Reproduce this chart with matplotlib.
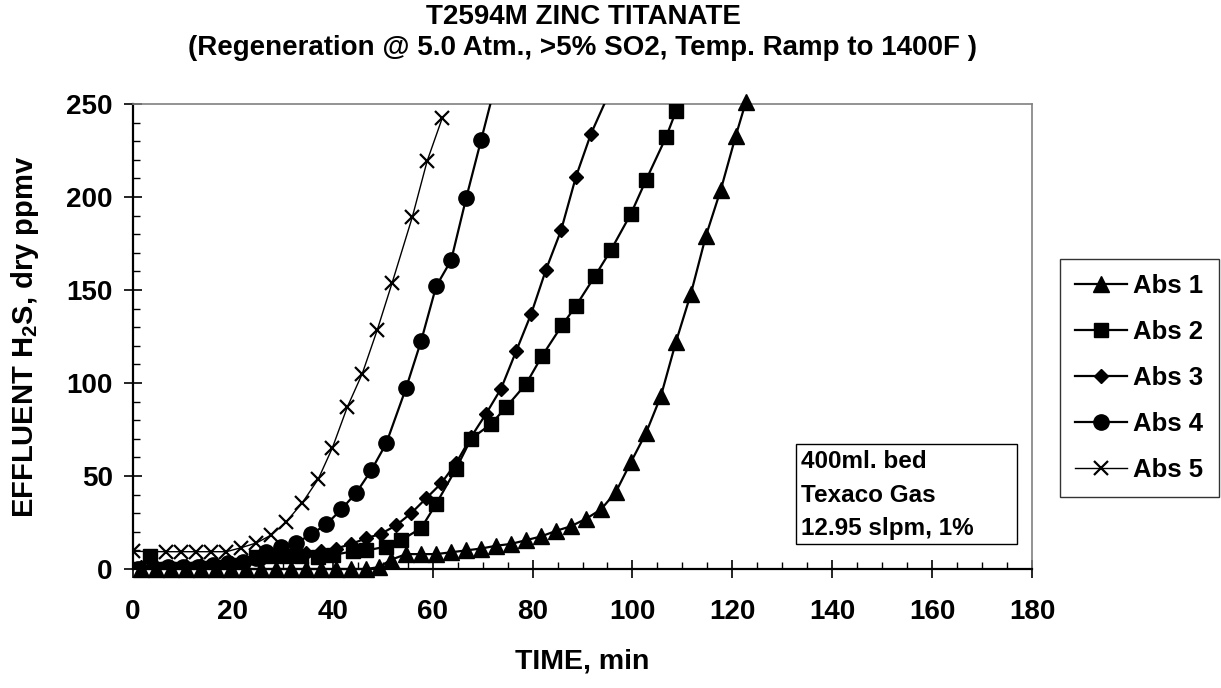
import matplotlib
matplotlib.use("Agg")
from matplotlib import pyplot as plt
from matplotlib.patches import Rectangle
from matplotlib.ticker import MultipleLocator

plt.rcParams['font.family'] = ['Liberation Sans', 'DejaVu Sans']
plt.rcParams['font.weight'] = 'bold'
plt.rcParams['mathtext.fontset'] = 'custom'
plt.rcParams['mathtext.rm'] = 'Liberation Sans:bold'
plt.rcParams['mathtext.bf'] = 'Liberation Sans:bold'

# data (time in min, H2S in ppmv)
abs1_t = [1.7, 4.7, 7.7, 10.7, 13.7, 16.7, 19.7, 22.7, 25.7, 28.7, 31.7, 34.7, 37.7, 40.7, 43.7, 46.7,
          49.2, 51.7, 54.7, 57.7, 60.7, 63.7, 66.7, 69.7, 72.7, 75.7, 78.7, 81.7, 84.7, 87.7, 90.7,
          93.7, 96.7, 99.7, 102.7, 105.7, 108.7, 111.7, 114.7, 117.7, 120.7, 122.7]
abs1_y = [0, 0, 0, 0, 0, 0, 0, 0, 0, 0, 0, 0, 0, 0, 0, 0,
          1, 5, 8, 8, 8, 9, 10, 11, 12.5, 13.5, 15.5, 17.5, 20.5, 23, 27,
          32, 41.5, 57.5, 73, 93, 122, 148, 179, 204, 233, 251]

abs2_t = [0.5, 3.5, 5, 7, 9, 11, 13, 15, 17, 19, 21, 24.7, 27.7, 30.7, 33.7, 37, 40, 44, 46.7,
          50.7, 53.7, 57.7, 60.7, 64.7, 67.7, 71.7, 74.7, 78.7, 81.9, 85.9, 88.7, 92.5, 95.7,
          99.7, 102.7, 106.7, 108.7]
abs2_y = [0, 7, 0, 0, 0, 0, 0, 0.5, 1, 1, 2, 6.5, 7, 7, 7, 6.5, 7.5, 9.5, 10,
          12, 15.5, 22, 35, 54, 70, 78, 87, 99.5, 114.5, 131, 141.5, 157.5, 171.5,
          191, 209, 232, 246]

abs3_t = [1.7, 4.7, 7.7, 10.7, 13.7, 16.7, 19.7, 22.7, 25.7, 28.7, 31.7, 34.7, 37.7, 40.7, 43.7,
          46.7, 49.7, 52.7, 55.7, 58.7, 61.7, 64.7, 67.7, 70.7, 73.7, 76.7, 79.7, 82.7, 85.7,
          88.7, 91.7, 95.7]
abs3_y = [1, 1, 1, 1.5, 2, 2, 3, 4, 5, 6.5, 7.5, 8.5, 9.5, 11, 13.5,
          16.5, 19, 23.5, 30, 38, 46, 57, 71, 83.5, 97, 117, 137, 161, 182,
          211, 234, 258]

abs4_t = [1, 4, 7, 10, 13, 16, 19, 22, 24.7, 26.7, 29.7, 32.7, 35.7, 38.7, 41.7, 44.7, 47.7,
          50.7, 54.7, 57.7, 60.7, 63.7, 66.7, 69.7, 72.7]
abs4_y = [0, 0.5, 1, 1, 1, 2, 3, 4, 6, 9, 12, 14, 18.7, 24, 32, 41, 53,
          67.5, 97.5, 122.7, 152, 166, 199.3, 230.6, 262]

abs5_t = [0, 6.7, 9.7, 12.7, 15.7, 18.7, 21.7, 24.7, 27.7, 30.7, 33.9, 37.1, 39.9, 42.9, 45.9,
          48.9, 51.9, 55.9, 58.9, 61.9]
abs5_y = [9.5, 9.3, 9.3, 9.3, 9.3, 9.3, 11.5, 14, 18.3, 25.4, 35.6, 48.4, 65, 87, 105,
          128.5, 154, 189, 219.4, 242.3]

title_lines = ["T2594M ZINC TITANATE",
               "(Regeneration @ 5.0 Atm., >5% SO2, Temp. Ramp to 1400F )"]
box_lines = ["400ml. bed", "Texaco Gas", "12.95 slpm, 1%"]

FS = 20

fig = plt.figure(figsize=(12.21, 6.88), dpi=100)
ax = fig.add_axes([133/1221, 1-569/688, 899/1221, 465/688])

ax.plot(abs1_t, abs1_y, color='black', lw=1.6, marker='^', ms=12, label='Abs 1', clip_on=False, zorder=3)
ax.plot(abs2_t, abs2_y, color='black', lw=1.6, marker='s', ms=10.5, label='Abs 2', zorder=3)
ax.plot(abs3_t, abs3_y, color='black', lw=1.6, marker='D', ms=7.5, label='Abs 3', zorder=3)
ax.plot(abs4_t, abs4_y, color='black', lw=1.6, marker='o', ms=11, label='Abs 4', zorder=3)
ax.plot(abs5_t, abs5_y, color='black', lw=1.0, marker='x', ms=9.5, mew=1.6, label='Abs 5', zorder=3)

ax.set_xlim(0, 180)
ax.set_ylim(0, 250)
ax.xaxis.set_major_locator(MultipleLocator(20))
ax.xaxis.set_minor_locator(MultipleLocator(5))
ax.yaxis.set_major_locator(MultipleLocator(50))
ax.yaxis.set_minor_locator(MultipleLocator(10))
ax.tick_params(which='major', direction='inout', length=13, width=1.2, labelsize=FS)
ax.tick_params(which='minor', direction='in', length=5, width=1)
ax.tick_params(axis='x', which='major', pad=15)
ax.tick_params(axis='y', which='major', pad=8)
for lab in ax.get_xticklabels() + ax.get_yticklabels():
    lab.set_fontweight('bold')

for s in ['left', 'bottom']:
    ax.spines[s].set_linewidth(1.6)
    ax.spines[s].set_color('black')
for s in ['top', 'right']:
    ax.spines[s].set_linewidth(1.2)
    ax.spines[s].set_color('#808080')

ax.set_xlabel("TIME, min", fontsize=20.5, fontweight='bold')
ax.xaxis.set_label_coords(0.5, -0.172)
ax.set_ylabel(r"EFFLUENT H$_\mathbf{2}$S, dry ppmv", fontsize=21, fontweight='bold')
ax.yaxis.set_label_coords(-0.102, 0.5)

for i, line in enumerate(title_lines):
    fig.text(583/1221, 1-(17+31*i)/688, line, fontsize=20, fontweight='bold', ha='center', va='center')

leg = fig.legend(loc='upper left', bbox_to_anchor=(1060/1221, 1-259/688), borderaxespad=0,
                 fontsize=18.5, frameon=True, fancybox=False, edgecolor='black',
                 handlelength=2.0, labelspacing=0.85, borderpad=0.6, handletextpad=0.25)
leg.get_frame().set_linewidth(1.0)
for t in leg.get_texts():
    t.set_fontweight('bold')

fig.patches.append(Rectangle((796/1221, 1-544/688), 221/1221, 100/688, transform=fig.transFigure,
                             fill=False, edgecolor='black', lw=1.0))
for i, line in enumerate(box_lines):
    fig.text(801/1221, 1-(462+33*i)/688, line, fontsize=17.5, fontweight='bold', va='center', ha='left')

fig.savefig("out.png", dpi=100)
